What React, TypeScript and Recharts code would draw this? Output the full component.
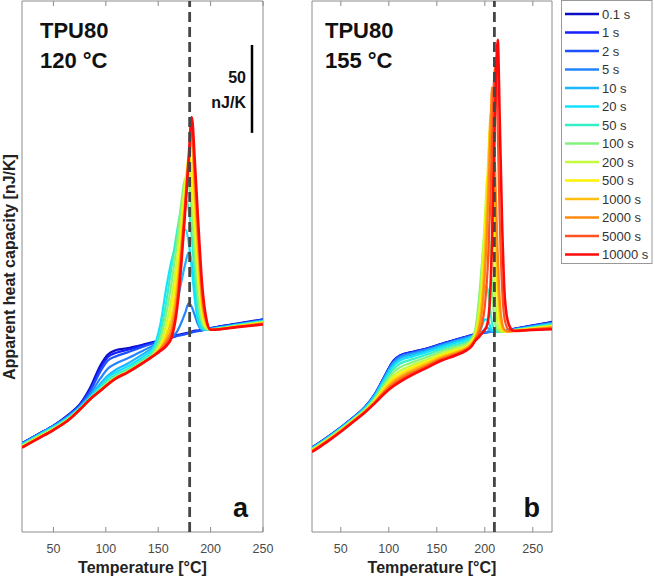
import React from "react";
import { LineChart, Line, XAxis, YAxis, ReferenceLine, ReferenceArea } from "recharts";

const times = ["0.1 s", "1 s", "2 s", "5 s", "10 s", "20 s", "50 s", "100 s", "200 s", "500 s", "1000 s", "2000 s", "5000 s", "10000 s"];
const colors = ["#0c0cc4", "#1420ff", "#1e50ff", "#2484ff", "#1eb4ff", "#10e2ff", "#34f0c4", "#84f27c", "#c4fa3c", "#fff200", "#ffbe10", "#ff8a10", "#ff5222", "#ff0a0a"];

const tempTicks = [50, 100, 150, 200, 250];

// panel a, annealed at 120 °C
const tempA = [20, 35, 50, 65, 75, 85, 95, 102, 110, 120, 135, 145, 152, 158, 163, 168, 172, 176, 179, 182, 185, 188, 192, 196, 200, 225, 250];
const cpA = [
  [50.5, 55.5, 60.5, 67, 72.5, 82, 95, 101, 103.5, 104.5, 106.5, 108, 109, 110, 111, 112, 112.5, 113, 113.5, 114, 114.5, 114.5, 115, 115.5, 116, 118.5, 121],
  [50.5, 55.5, 60.5, 66.8, 72.2, 81, 93.5, 99.5, 102, 103.5, 106, 107.5, 108.7, 109.7, 110.7, 111.7, 112.2, 112.7, 113.2, 113.7, 114.2, 114.4, 114.9, 115.4, 115.9, 118.3, 120.8],
  [50.3, 55.3, 60.3, 66.5, 71.8, 80, 91.5, 97.5, 100, 102, 105.3, 107.2, 108.5, 109.5, 110.5, 111.5, 112, 112.5, 113, 113.5, 114, 114.2, 114.7, 115.2, 115.7, 118.2, 120.6],
  [50.2, 55.2, 60.2, 66.2, 71.3, 78.5, 87.5, 93, 96, 98.5, 103, 106, 108, 109.5, 111, 114, 119, 125, 130, 128, 123, 118, 115, 115, 115.5, 118, 120.3],
  [50, 55, 60, 65.8, 70.8, 77.2, 84.5, 89, 92.5, 95.5, 101, 105, 108.5, 113, 120, 130, 142, 153, 159, 153, 137, 122, 116, 115, 115.4, 117.8, 120.1],
  [49.8, 54.8, 59.7, 65.5, 70.5, 76.6, 83, 88, 91, 94, 99.5, 104.5, 118, 140, 155, 165, 171, 172, 165, 150, 132, 120, 115.5, 115, 115.3, 117.7, 119.9],
  [49.5, 54.5, 59.3, 65.1, 70.1, 76, 82, 86.5, 89.5, 92.5, 98, 103, 113, 132, 152, 171, 184, 189, 184, 168, 145, 126, 117, 115, 115.3, 117.5, 119.7],
  [49.2, 54.2, 59, 64.8, 69.9, 75.7, 81.2, 85.2, 88.5, 91.5, 97, 101.5, 110, 125, 143, 165, 187, 201, 198, 182, 158, 134, 119, 115.5, 115.3, 117.3, 119.5],
  [48.8, 53.8, 58.6, 64.5, 69.7, 75.6, 80.8, 84.6, 88, 91, 96.5, 100.5, 107, 119, 134, 155, 178, 201, 208, 194, 168, 143, 122, 116, 115.2, 117.1, 119.3],
  [48.5, 53.5, 58.3, 64.2, 69.6, 75.5, 80.6, 84.2, 87.7, 90.7, 96.2, 100.2, 105.5, 114, 128, 148, 171, 197, 214, 205, 178, 151, 125, 117, 115.2, 117, 119],
  [48.3, 53.3, 58.2, 64.1, 69.5, 75.5, 80.5, 84.1, 87.6, 90.6, 96.1, 100.1, 104.5, 111, 121, 140, 164, 192, 213, 221, 190, 160, 129, 118, 115.1, 116.8, 118.8],
  [48.2, 53.2, 58.1, 64, 69.5, 75.5, 80.5, 84, 87.5, 90.5, 96, 100, 104, 109, 116, 134, 160, 189, 211, 226, 198, 167, 132, 119, 115.1, 116.7, 118.5],
  [48.1, 53.1, 58, 64, 69.5, 75.5, 80.5, 84, 87.5, 90.5, 96, 100, 103.5, 107.5, 113, 130, 156, 186, 208, 230, 205, 173, 136, 120, 115, 116.6, 118.3],
  [48, 53, 58, 64, 69.5, 75.5, 80.5, 84, 87.5, 90.5, 96, 100, 103, 106, 111, 127, 152, 185, 212, 236, 210, 178, 140, 121, 115, 116.5, 118],
];

// panel b, annealed at 155 °C
const tempB = [20, 35, 50, 65, 75, 85, 95, 105, 112, 125, 140, 155, 170, 180, 186, 190, 194, 197, 200, 203, 205.5, 207.5, 209.5, 211.5, 213.5, 215.5, 218, 221, 225, 230, 250, 270];
const cpB = [
  [48, 53.5, 59.5, 66, 71, 78, 88, 97.5, 100.6, 102.5, 104.5, 107, 109.5, 111, 112, 112.5, 113, 113.3, 113.6, 113.8, 114, 114.1, 114.2, 114.3, 114.4, 114.5, 114.6, 114.8, 115, 115.5, 117.5, 119.5],
  [48, 53.5, 59.5, 66, 71, 78, 87.9, 97.4, 100.4, 102.4, 104.4, 106.9, 109.4, 110.9, 111.9, 112.4, 112.9, 113.2, 113.5, 113.7, 113.9, 114, 114.1, 114.2, 114.3, 114.4, 114.5, 114.7, 114.9, 115.4, 117.4, 119.3],
  [47.9, 53.4, 59.4, 65.9, 70.9, 77.9, 87.7, 97.1, 100.1, 102.1, 104.2, 106.7, 109.2, 110.7, 111.7, 112.3, 112.8, 113.1, 113.4, 113.6, 113.8, 113.9, 114, 114.1, 114.2, 114.3, 114.4, 114.6, 114.8, 115.3, 117.2, 119.1],
  [47.8, 53.3, 59.3, 65.8, 70.8, 77.7, 87.4, 96.6, 99.7, 101.7, 103.8, 106.4, 108.9, 110.4, 111.5, 112.1, 112.7, 113.1, 113.6, 113.8, 113.8, 113.8, 113.9, 114, 114.1, 114.2, 114.3, 114.5, 114.7, 115.2, 117, 118.8],
  [47.6, 53.1, 59.1, 65.6, 70.5, 77.3, 86.9, 95.8, 98.8, 101, 103.2, 105.9, 108.4, 110, 111.2, 112, 112.8, 113.8, 115.5, 116, 115, 114.2, 113.9, 113.9, 114, 114.1, 114.2, 114.4, 114.6, 115, 116.8, 118.5],
  [47.4, 52.9, 58.9, 65.4, 70.2, 76.8, 86.1, 94.6, 97.6, 99.9, 102.3, 105.1, 107.6, 109.2, 110.8, 112, 114, 117, 121, 120.5, 117, 114.8, 114, 113.8, 113.9, 114, 114.1, 114.3, 114.5, 114.9, 116.6, 118.2],
  [47.2, 52.7, 58.7, 65.2, 69.8, 76.2, 85, 92.9, 95.8, 98.3, 101, 104, 106.5, 108, 110, 113, 120, 129, 140, 138, 127, 119, 115.5, 114.2, 113.9, 113.9, 114, 114.2, 114.4, 114.8, 116.3, 117.9],
  [47, 52.4, 58.4, 64.9, 69.4, 75.5, 83.7, 91, 93.8, 96.6, 99.5, 102.7, 105.3, 107, 109.5, 115, 133, 153, 171, 176, 160, 140, 124, 117, 114.6, 114, 114, 114.1, 114.3, 114.7, 116.1, 117.6],
  [46.7, 52.1, 58.1, 64.6, 69, 74.8, 82.5, 89.1, 91.8, 95, 98.1, 101.5, 104.2, 106, 108.8, 113, 126, 147, 178, 203, 200, 178, 150, 128, 118, 115, 114, 114, 114.2, 114.6, 115.9, 117.3],
  [46.5, 51.9, 57.9, 64.4, 68.7, 74.3, 81.5, 87.6, 90.3, 93.7, 97, 100.5, 103.3, 105, 108, 111.5, 121, 138, 168, 205, 230, 218, 188, 156, 131, 119, 115, 114, 114.1, 114.5, 115.7, 117],
  [46.2, 51.6, 57.6, 64.1, 68.5, 73.9, 80.6, 86.2, 88.8, 92.4, 95.9, 99.6, 102.4, 104.5, 107.2, 110.5, 118, 131, 158, 194, 234, 242, 212, 174, 143, 125, 116.5, 114.2, 114, 114.4, 115.5, 116.6],
  [46, 51.4, 57.4, 63.9, 68.3, 73.5, 79.8, 85, 87.6, 91.3, 95, 98.8, 101.7, 104, 106.5, 109.8, 115.5, 125, 146, 180, 220, 253, 230, 192, 158, 133, 119, 114.8, 114, 114.3, 115.3, 116.2],
  [45.8, 51.2, 57.2, 63.7, 68.1, 73.2, 79.2, 84, 86.5, 90.4, 94.3, 98.2, 101.1, 103.5, 106, 109.2, 113, 118, 128, 150, 184, 222, 256, 267, 228, 178, 139, 120, 115, 114.2, 115.1, 115.8],
  [45.5, 51, 57, 63.5, 68, 73, 78.5, 83, 85.5, 89.5, 93.5, 97.5, 100.5, 103, 105.5, 108.8, 111, 113, 115, 119, 134, 165, 215, 256, 280, 236, 176, 132, 118, 114.5, 114.9, 115.3],
];

const FONT = '"Liberation Sans", Arial, sans-serif';
const PLOT_TOP = 1;
const Y_MAX = 302;

const toRows = (temps: number[], cps: number[][]) =>
  temps.map((t, i) => {
    const row: Record<string, number> = { t };
    cps.forEach((s, k) => (row[`s${k}`] = s[i]));
    return row;
  });

// MATLAB style inward ticks on bottom and top, label below
const TempTick = (props: any) => {
  const { x, y, payload } = props;
  return (
    <g>
      <line x1={x} x2={x} y1={y} y2={y - 5} stroke="#8c8c8c" />
      <line x1={x} x2={x} y1={PLOT_TOP} y2={PLOT_TOP + 5} stroke="#8c8c8c" />
      <text x={x} y={y + 21} textAnchor="middle" fill="#4a4a4a" fontSize={12.5} fontFamily={FONT}>
        {payload.value}
      </text>
    </g>
  );
};

const Panel = ({ left, right, temps, cps, xMax, peakT, children }: any) => (
  <div style={{ position: "absolute", left, top: 0 }}>
    <LineChart width={280} height={578} data={toRows(temps, cps)} margin={{ top: PLOT_TOP, right, left: 22, bottom: 0 }}>
      <XAxis
        dataKey="t"
        type="number"
        domain={[20, xMax]}
        ticks={tempTicks}
        interval={0}
        allowDataOverflow
        tickSize={0}
        tickMargin={0}
        tickLine={false}
        axisLine={false}
        height={46}
        tick={<TempTick />}
        label={{ value: "Temperature [°C]", position: "insideBottom", offset: 5, fontFamily: FONT, fontSize: 16, fontWeight: 700, fill: "#222" }}
      />
      <YAxis hide type="number" domain={[0, Y_MAX]} allowDataOverflow />
      {cps.map((_: number[], k: number) => (
        <Line key={k} dataKey={`s${k}`} type="monotone" stroke={colors[k]} strokeWidth={k === cps.length - 1 ? 2.6 : 2.2} dot={false} isAnimationActive={false} />
      ))}
      <ReferenceLine x={peakT} stroke="#454545" strokeWidth={2.8} strokeDasharray="10 5" />
      <ReferenceArea x1={20} x2={xMax} y1={0} y2={Y_MAX} fill="none" stroke="#8c8c8c" strokeWidth={1} />
      {children}
    </LineChart>
  </div>
);

export default function App() {
  return (
    <div style={{ position: "absolute", left: 0, top: 0, width: 655, height: 578, background: "#fff", fontFamily: FONT }}>
      <Panel left={0} right={17} temps={tempA} cps={cpA} xMax={250} peakT={180}>
        <ReferenceLine segment={[{ x: 239.5, y: 227 }, { x: 239.5, y: 277 }]} stroke="#000" strokeWidth={2.5} />
      </Panel>
      <Panel left={290} right={18} temps={tempB} cps={cpB} xMax={270} peakT={210} />
      <svg width={655} height={578} style={{ position: "absolute", left: 0, top: 0, pointerEvents: "none" }} fontFamily={FONT}>
        <text transform="translate(15,267) rotate(-90)" textAnchor="middle" fontSize={16} fontWeight={700} fill="#222">
          Apparent heat capacity [nJ/K]
        </text>
        <g fontSize={22} fontWeight={700} fill="#111">
          <text x={40} y={38}>TPU80</text>
          <text x={40} y={68}>120 °C</text>
          <text x={325} y={38}>TPU80</text>
          <text x={325} y={68}>155 °C</text>
        </g>
        <g fontSize={16} fontWeight={700} fill="#111" textAnchor="end">
          <text x={246} y={83}>50</text>
          <text x={246} y={108}>nJ/K</text>
        </g>
        <g fontSize={27} fontWeight={700} fill="#111" textAnchor="end">
          <text x={248} y={517}>a</text>
          <text x={540} y={517}>b</text>
        </g>
        <rect x={561.5} y={0.5} width={90.5} height={263} fill="#fff" stroke="#999" />
        {times.map((label, k) => (
          <g key={label}>
            <line x1={565} x2={599} y1={14 + k * 18.5} y2={14 + k * 18.5} stroke={colors[k]} strokeWidth={2.5} />
            <text x={602} y={18.5 + k * 18.5} fontSize={13} fill="#333">
              {label}
            </text>
          </g>
        ))}
      </svg>
    </div>
  );
}
